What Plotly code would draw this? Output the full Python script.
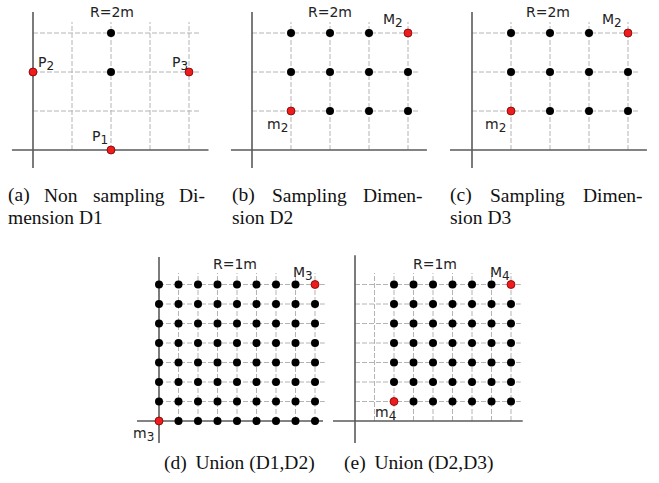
import plotly.graph_objects as go
from itertools import product

W, H = 659, 483
OFF = 0      # page offset of the plot div (body margin removed below)
S = 19.5     # pixels per metre

# ---------------- data (metres) ----------------
# (a) Non sampling dimension D1
a_black_x = [4, 4]
a_black_y = [4, 6]
a_red_x = [4, 0, 8]
a_red_y = [0, 4, 4]
a_grid_x = [2, 4, 6, 8]
a_grid_y = [2, 4, 6]

# (b) Sampling dimension D2
b_cols = [2, 4, 6, 8]
b_rows = [2, 4, 6]
b_red_x = [2, 8]
b_red_y = [2, 6]
b_grid_x = [2, 4, 6, 8]
b_grid_y = [2, 4, 6]

# (c) Sampling dimension D3
c_cols = [2, 4, 6, 8]
c_rows = [2, 4, 6]
c_red_x = [2, 8]
c_red_y = [2, 6]
c_grid_x = [2, 4, 6, 8]
c_grid_y = [2, 4, 6]

# (d) Union (D1,D2)
d_cols = [0, 1, 2, 3, 4, 5, 6, 7, 8]
d_rows = [0, 1, 2, 3, 4, 5, 6, 7]
d_red_x = [0, 8]
d_red_y = [0, 7]
d_grid_x = [1, 2, 3, 4, 5, 6, 7, 8]
d_grid_y = [1, 2, 3, 4, 5, 6, 7]

# (e) Union (D2,D3)
e_cols = [2, 3, 4, 5, 6, 7, 8]
e_rows = [1, 2, 3, 4, 5, 6, 7]
e_red_x = [2, 8]
e_red_y = [1, 7]
e_grid_x = [1, 2, 3, 4, 5, 6, 7, 8]
e_grid_y = [1, 2, 3, 4, 5, 6, 7]

titles = ["R=2m", "R=2m", "R=2m", "R=1m", "R=1m"]
SUB = '<sub><span style="font-size:12px">{}</span></sub>'
a_labels = ["P" + SUB.format(1), "P" + SUB.format(2), "P" + SUB.format(3)]
b_labels = ["m" + SUB.format(2), "M" + SUB.format(2)]
c_labels = ["m" + SUB.format(2), "M" + SUB.format(2)]
d_labels = ["m" + SUB.format(3), "M" + SUB.format(3)]
e_labels = ["m" + SUB.format(4), "M" + SUB.format(4)]

captions = [
    (["(a)", "Non", "sampling", "Di-"], "mension D1"),
    (["(b)", "Sampling", "Dimen-"], "sion D2"),
    (["(c)", "Sampling", "Dimen-"], "sion D3"),
]
captions2 = ["(d)\u2009 Union (D1,D2)", "(e)\u2009 Union (D2,D3)"]

# ---------------- styling ----------------
GRID_COL = "#b4b4b4"
AXIS_COL = "#5a5a5a"
RED = "#ee1c1c"
LABEL_FONT = dict(family="DejaVu Sans", size=14, color="#222222")
CAP_FONT = dict(family="Liberation Serif", size=19.5, color="#111111")

fig = go.Figure()

# panel geometry (page pixels): origin, box (l, t, r, b), axis extents, grid overhang
panels = [
    dict(o=(33, 150), box=(0, 0, 219, 178), ax=(-1.08, 9.0, -0.92, 7.08), gext=(8.56, 6.56)),
    dict(o=(252, 150), box=(220, 0, 439, 178), ax=(-1.08, 8.97, -0.92, 7.08), gext=(8.56, 6.56)),
    dict(o=(472, 150), box=(440, 0, 659, 178), ax=(-1.13, 8.97, -0.92, 7.08), gext=(8.56, 6.56)),
    dict(o=(159, 421), box=(128, 245, 330, 450), ax=(-1.13, 8.41, -1.13, 8.41), gext=(8.5, 7.59)),
    dict(o=(355, 421), box=(330, 245, 540, 450), ax=(-1.13, 8.6, -1.13, 8.5), gext=(8.5, 7.59)),
]

grids = [(a_grid_x, a_grid_y), (b_grid_x, b_grid_y), (c_grid_x, c_grid_y),
         (d_grid_x, d_grid_y), (e_grid_x, e_grid_y)]


def pts(cols, rows, rx, ry):
    red = set(zip(rx, ry))
    xs, ys = [], []
    for x, y in product(cols, rows):
        if (x, y) not in red:
            xs.append(x)
            ys.append(y)
    return xs, ys


blacks = [
    (a_black_x, a_black_y),
    pts(b_cols, b_rows, b_red_x, b_red_y),
    pts(c_cols, c_rows, c_red_x, c_red_y),
    pts(d_cols, d_rows, d_red_x, d_red_y),
    pts(e_cols, e_rows, e_red_x, e_red_y),
]
reds = [(a_red_x, a_red_y), (b_red_x, b_red_y), (c_red_x, c_red_y),
        (d_red_x, d_red_y), (e_red_x, e_red_y)]

layout_axes = {}
for i, p in enumerate(panels):
    n = "" if i == 0 else str(i + 1)
    ox, oy = p["o"]
    l, t, r, b = p["box"]
    layout_axes["xaxis" + n] = dict(domain=[(l - OFF) / W, (r - OFF) / W],
                                    range=[(l - ox) / S, (r - ox) / S],
                                    visible=False, fixedrange=True, anchor="y" + n)
    layout_axes["yaxis" + n] = dict(domain=[1 - (b - OFF) / H, 1 - (t - OFF) / H],
                                    range=[(oy - b) / S, (oy - t) / S],
                                    visible=False, fixedrange=True, anchor="x" + n)
    xa, ya = "x" + n, "y" + n
    gx, gy = grids[i]
    ex, ey = p["gext"]
    # dashed grid lines
    lx, ly = [], []
    for v in gx:
        lx += [v, v, None]
        ly += [0, ey, None]
    for v in gy:
        lx += [0, ex, None]
        ly += [v, v, None]
    fig.add_trace(go.Scatter(x=lx, y=ly, mode="lines", xaxis=xa, yaxis=ya, hoverinfo="skip",
                             line=dict(color=GRID_COL, width=1, dash="5px,2px")))
    # axis lines
    x0, x1, y0, y1 = p["ax"]
    fig.add_trace(go.Scatter(x=[x0, x1, None, 0, 0], y=[0, 0, None, y0, y1], mode="lines",
                             xaxis=xa, yaxis=ya, hoverinfo="skip",
                             line=dict(color=AXIS_COL, width=1.6)))
    bx, by = blacks[i]
    fig.add_trace(go.Scatter(x=bx, y=by, mode="markers", xaxis=xa, yaxis=ya, cliponaxis=False,
                             marker=dict(color="black", size=8, line=dict(width=0))))
    rx, ry = reds[i]
    fig.add_trace(go.Scatter(x=rx, y=ry, mode="markers", xaxis=xa, yaxis=ya, cliponaxis=False,
                             marker=dict(color=RED, size=8, line=dict(color="#7a0000", width=0.8))))

annotations = []


def ann(text, px, py, font, xanchor="center", yanchor="middle"):
    annotations.append(dict(text=text, x=(px - OFF) / W, y=1 - (py - OFF) / H,
                            xref="paper", yref="paper",
                            showarrow=False, font=font, xanchor=xanchor, yanchor=yanchor,
                            borderpad=0, borderwidth=0))


# point labels (page pixel positions)
title_pos = [(112, 12), (330, 12), (548, 12), (235, 264), (435, 264)]
for t_, (px, py) in zip(titles, title_pos):
    ann(t_, px, py, LABEL_FONT)
for t_, (px, py) in zip(a_labels, [(100, 137), (46, 63), (180, 63)]):
    ann(t_, px, py, LABEL_FONT)
for t_, (px, py) in zip(b_labels, [(277, 125), (393, 21)]):
    ann(t_, px, py, LABEL_FONT)
for t_, (px, py) in zip(c_labels, [(495, 125), (612, 21)]):
    ann(t_, px, py, LABEL_FONT)
for t_, (px, py) in zip(d_labels, [(143, 434), (303, 273)]):
    ann(t_, px, py, LABEL_FONT)
for t_, (px, py) in zip(e_labels, [(385, 413), (500, 273)]):
    ann(t_, px, py, LABEL_FONT)

# justified captions (Times metrics)
TIMES = {'(': 333, ')': 333, 'a': 444, 'b': 500, 'c': 444, 'd': 500, 'e': 444, 'g': 500,
         'i': 278, 'l': 278, 'm': 778, 'n': 500, 'o': 500, 'p': 500, 's': 389, 'N': 722,
         'S': 556, 'D': 722, 'U': 722, '-': 333, '1': 500, '2': 500, '3': 500, ',': 250, ' ': 250}


def tw(s, fs):
    return sum(TIMES.get(ch, 500) for ch in s) / 1000 * fs


cap_box = [(8, 205), (232, 423), (450, 643)]
for (words, line2), (L, R) in zip(captions, cap_box):
    fs = CAP_FONT["size"]
    widths = [tw(w, fs) for w in words]
    gap = (R - L - sum(widths)) / (len(words) - 1)
    x = L
    for w, wd in zip(words, widths):
        ann(w, x, 195, CAP_FONT, xanchor="left")
        x += wd + gap
    ann(line2, L, 217, CAP_FONT, xanchor="left")

for cap, cx in zip(captions2, [239, 419]):
    ann(cap, cx, 463, CAP_FONT)

fig.update_layout(width=W, height=H, margin=dict(l=0, r=0, t=0, b=0),
                  paper_bgcolor="white", plot_bgcolor="white", showlegend=False,
                  annotations=annotations, **layout_axes)

fig.write_html("out.html", config={"displayModeBar": False},
               post_script="document.body.style.margin='0';")
